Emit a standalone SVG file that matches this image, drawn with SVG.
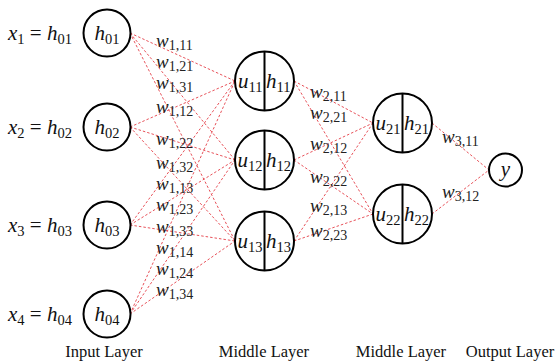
<svg xmlns="http://www.w3.org/2000/svg" width="558" height="363" viewBox="0 0 558 363">
<style>
.n{fill:#fff;stroke:#000;stroke-width:2}
.d{stroke:#000;stroke-width:2}
.c{stroke:#e8525a;stroke-width:1;stroke-dasharray:2.5,2;fill:none}
.m{font-family:'Liberation Serif','DejaVu Serif','Times New Roman',serif;font-size:21px;font-style:italic;fill:#111}
.s{font-size:14.5px;font-style:normal}
.r{font-style:normal}
.w{font-family:'Liberation Serif','DejaVu Serif','Times New Roman',serif;font-size:19px;font-style:italic;fill:#222}
.w .s{font-size:14px}
.l{font-family:'Liberation Serif','DejaVu Serif','Times New Roman',serif;font-size:16.5px;fill:#111;text-anchor:middle}
</style>
<rect width="558" height="363" fill="#fff"/>
<g id="connectors">
<path class="c" d="M130 33L235 81M130 33L235 160M130 33L235 241M130 127L235 81M130 127L235 160M130 127L235 241M130 225L235 81M130 225L235 160M130 225L235 241M130 314L235 81M130 314L235 160M130 314L235 241"/>
<path class="c" d="M294 81L373 123M294 81L373 214M294 160L373 123M294 160L373 214M294 241L373 123M294 241L373 214"/>
<path class="c" d="M432 123L489 170M432 214L489 170"/>
</g>
<g id="weights">
<text class="w" x="156" y="47">w<tspan class="s" dy="3">1,11</tspan></text>
<text class="w" x="156" y="68">w<tspan class="s" dy="3">1,21</tspan></text>
<text class="w" x="156" y="89">w<tspan class="s" dy="3">1,31</tspan></text>
<text class="w" x="156" y="113">w<tspan class="s" dy="3">1,12</tspan></text>
<text class="w" x="156" y="145">w<tspan class="s" dy="3">1,22</tspan></text>
<text class="w" x="156" y="169">w<tspan class="s" dy="3">1,32</tspan></text>
<text class="w" x="156" y="190">w<tspan class="s" dy="3">1,13</tspan></text>
<text class="w" x="156" y="211">w<tspan class="s" dy="3">1,23</tspan></text>
<text class="w" x="156" y="233">w<tspan class="s" dy="3">1,33</tspan></text>
<text class="w" x="156" y="254">w<tspan class="s" dy="3">1,14</tspan></text>
<text class="w" x="156" y="275">w<tspan class="s" dy="3">1,24</tspan></text>
<text class="w" x="156" y="296">w<tspan class="s" dy="3">1,34</tspan></text>
<text class="w" x="310" y="98">w<tspan class="s" dy="3">2,11</tspan></text>
<text class="w" x="310" y="119">w<tspan class="s" dy="3">2,21</tspan></text>
<text class="w" x="310" y="150">w<tspan class="s" dy="3">2,12</tspan></text>
<text class="w" x="310" y="183">w<tspan class="s" dy="3">2,22</tspan></text>
<text class="w" x="310" y="212">w<tspan class="s" dy="3">2,13</tspan></text>
<text class="w" x="310" y="237">w<tspan class="s" dy="3">2,23</tspan></text>
<text class="w" x="442" y="143">w<tspan class="s" dy="3">3,11</tspan></text>
<text class="w" x="442" y="198">w<tspan class="s" dy="3">3,12</tspan></text>
</g>
<g id="in1">
<text class="m" x="8" y="40">x<tspan class="s" dy="4">1</tspan><tspan class="r" dy="-4"> = </tspan>h<tspan class="s" dy="4">01</tspan></text>
<circle class="n" cx="107" cy="33" r="23.5"/>
<text class="m" x="107" y="40" text-anchor="middle">h<tspan class="s" dy="4">01</tspan></text>
</g>
<g id="in2">
<text class="m" x="8" y="134">x<tspan class="s" dy="4">2</tspan><tspan class="r" dy="-4"> = </tspan>h<tspan class="s" dy="4">02</tspan></text>
<circle class="n" cx="107" cy="127" r="23.5"/>
<text class="m" x="107" y="134" text-anchor="middle">h<tspan class="s" dy="4">02</tspan></text>
</g>
<g id="in3">
<text class="m" x="8" y="232">x<tspan class="s" dy="4">3</tspan><tspan class="r" dy="-4"> = </tspan>h<tspan class="s" dy="4">03</tspan></text>
<circle class="n" cx="107" cy="225" r="23.5"/>
<text class="m" x="107" y="232" text-anchor="middle">h<tspan class="s" dy="4">03</tspan></text>
</g>
<g id="in4">
<text class="m" x="8" y="321">x<tspan class="s" dy="4">4</tspan><tspan class="r" dy="-4"> = </tspan>h<tspan class="s" dy="4">04</tspan></text>
<circle class="n" cx="107" cy="314" r="23.5"/>
<text class="m" x="107" y="321" text-anchor="middle">h<tspan class="s" dy="4">04</tspan></text>
</g>
<g id="m11">
<circle class="n" cx="264.5" cy="81" r="29.5"/>
<line class="d" x1="264.5" y1="51.5" x2="264.5" y2="110.5"/>
<text class="m" x="262.5" y="88" text-anchor="end">u<tspan class="s" dy="4">11</tspan></text>
<text class="m" x="266" y="88">h<tspan class="s" dy="4">11</tspan></text>
</g>
<g id="m12">
<circle class="n" cx="264.5" cy="160" r="29.5"/>
<line class="d" x1="264.5" y1="130.5" x2="264.5" y2="189.5"/>
<text class="m" x="262.5" y="167" text-anchor="end">u<tspan class="s" dy="4">12</tspan></text>
<text class="m" x="266" y="167">h<tspan class="s" dy="4">12</tspan></text>
</g>
<g id="m13">
<circle class="n" cx="264.5" cy="241" r="29.5"/>
<line class="d" x1="264.5" y1="211.5" x2="264.5" y2="270.5"/>
<text class="m" x="262.5" y="248" text-anchor="end">u<tspan class="s" dy="4">13</tspan></text>
<text class="m" x="266" y="248">h<tspan class="s" dy="4">13</tspan></text>
</g>
<g id="m21">
<circle class="n" cx="402.5" cy="123" r="29.5"/>
<line class="d" x1="402.5" y1="93.5" x2="402.5" y2="152.5"/>
<text class="m" x="400.5" y="130" text-anchor="end">u<tspan class="s" dy="4">21</tspan></text>
<text class="m" x="404" y="130">h<tspan class="s" dy="4">21</tspan></text>
</g>
<g id="m22">
<circle class="n" cx="402.5" cy="214" r="29.5"/>
<line class="d" x1="402.5" y1="184.5" x2="402.5" y2="243.5"/>
<text class="m" x="400.5" y="221" text-anchor="end">u<tspan class="s" dy="4">22</tspan></text>
<text class="m" x="404" y="221">h<tspan class="s" dy="4">22</tspan></text>
</g>
<g id="out">
<circle class="n" cx="505.5" cy="170" r="16.5"/>
<text class="m" x="505.5" y="176" text-anchor="middle">y</text>
</g>
<g id="labels">
<text class="l" x="104" y="357">Input Layer</text>
<text class="l" x="264" y="357">Middle Layer</text>
<text class="l" x="401" y="357">Middle Layer</text>
<text class="l" x="510" y="357">Output Layer</text>
</g>
</svg>
